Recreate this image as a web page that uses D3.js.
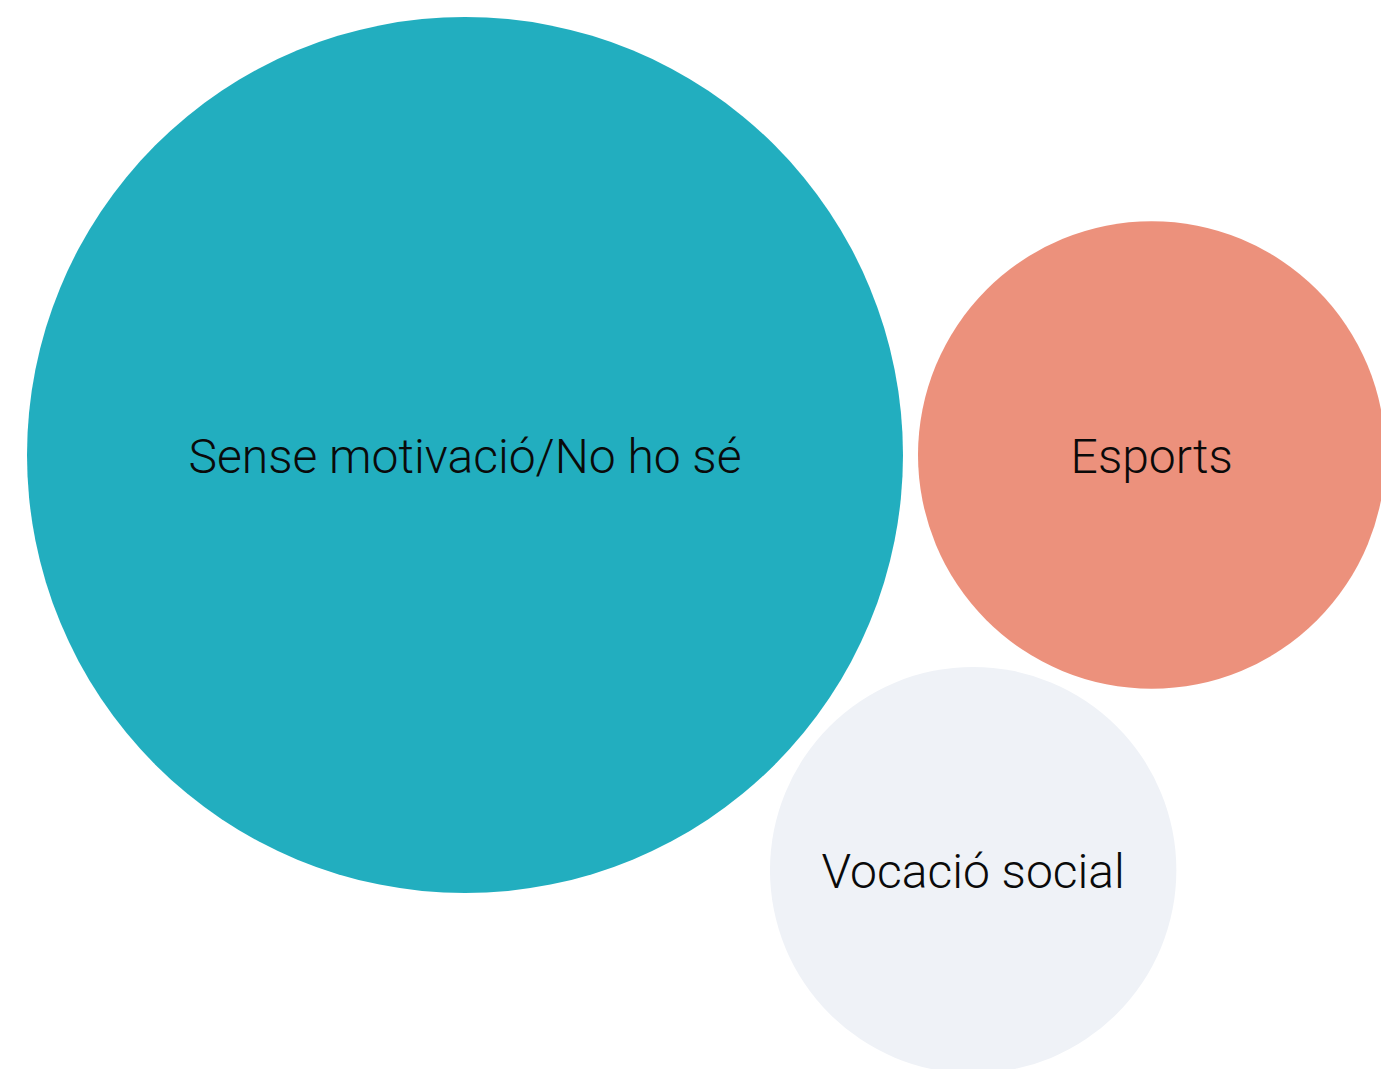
<!DOCTYPE html>
<html>
<head>
<meta charset="utf-8">
<script src="https://cdn.jsdelivr.net/npm/d3@7"></script>
<style>
  body { margin: 0; background: #fff; overflow: hidden; }
</style>
</head>
<body>
<script>
var categories = ["Sense motivació/No ho sé", "Esports", "Vocació social"];
var values = [46, 13.1, 9.9];
var colors = ["#22aebf", "#ec917c", "#eff2f7"];

var width = 1381, height = 1069;
var padding = 15;

var svg = d3.select("body")
            .append("svg")
            .attr("width", width)
            .attr("height", height);

var r = d3.scaleSqrt()
          .domain([0, d3.max(values)])
          .range([0, 438]);

var nodes = values.map(function(v, i) {
    return { name: categories[i], value: v, color: colors[i], r: r(v) + padding / 2 };
});

d3.packSiblings(nodes);

// anchor the biggest bubble at the left edge, vertically at 455
var dx = 27 + r(values[0]) - nodes[0].x;
var dy = 455 - nodes[0].y;

var g = svg.selectAll("g.bubble")
           .data(nodes)
           .enter()
           .append("g")
           .attr("class", "bubble")
           .attr("transform", function(d) {
               return "translate(" + (d.x + dx) + "," + (d.y + dy) + ")";
           });

g.append("circle")
    .attr("r", function(d) { return d.r - padding / 2; })
    .attr("fill", function(d) { return d.color; });

g.append("text")
    .attr("text-anchor", "middle")
    .attr("dy", "0.37em")
    .attr("font-family", "Roboto, sans-serif")
    .attr("font-weight", 300)
    .attr("font-size", 48)
    .attr("fill", "#0a0a0a")
    .text(function(d) { return d.name; });
</script>
</body>
</html>
